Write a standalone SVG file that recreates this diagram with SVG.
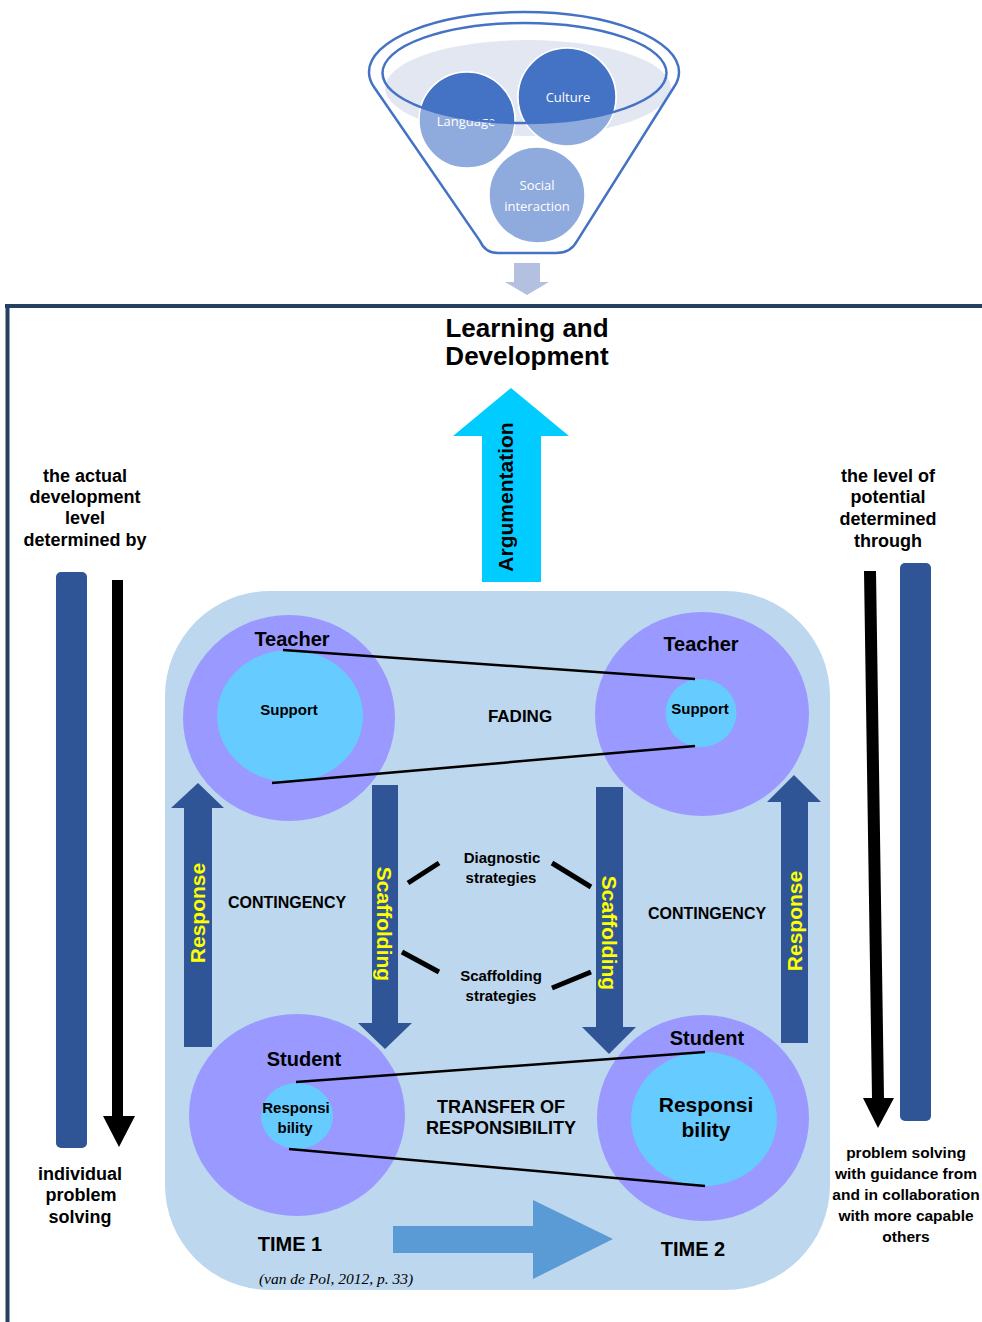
<svg xmlns="http://www.w3.org/2000/svg" width="982" height="1322" viewBox="0 0 982 1322">
  <defs>
    <style>
      .b { font-family: "Liberation Sans", Arial, sans-serif; font-weight: bold; fill: #000; text-anchor: middle; }
      .y { font-family: "Liberation Sans", Arial, sans-serif; font-weight: bold; fill: #ffff00; text-anchor: middle; font-size: 21px; }
      .f { font-family: "Open Sans", "Noto Sans", sans-serif; fill: #fff; text-anchor: middle; font-size: 13px; }
      .funnel { fill: none; stroke: #4472c4; stroke-width: 2.5; }
      .ring { fill: #9999ff; }
      .core { fill: #66ccff; }
      .dark { fill: #2f5597; }
      .thin { stroke: #000; stroke-width: 2.5; fill: none; }
      .dash { stroke: #000; stroke-width: 5; fill: none; }
    </style>
    <clipPath id="innerRim">
      <ellipse cx="524.5" cy="73" rx="142" ry="50"/>
    </clipPath>
  </defs>

  <rect width="982" height="1322" fill="#ffffff"/>

  <!-- funnel of influences -->
  <g id="funnel">
    <ellipse cx="528" cy="88" rx="143" ry="48" fill="#e3e7f2"/>
    <g stroke="#ffffff" stroke-width="1.5">
      <circle cx="467" cy="120" r="48" fill="#8faadc"/>
      <circle cx="567" cy="97" r="49" fill="#8faadc"/>
      <circle cx="537" cy="195" r="48" fill="#8faadc"/>
      <g clip-path="url(#innerRim)">
        <circle cx="467" cy="120" r="48" fill="#4472c4"/>
        <circle cx="567" cy="97" r="49" fill="#4472c4"/>
      </g>
    </g>
    <text class="f" x="466" y="126">Language</text>
    <text class="f" x="568" y="102">Culture</text>
    <text class="f" x="537" y="190">Social</text>
    <text class="f" x="537" y="211">interaction</text>
    <path class="funnel" d="M369,72 A155,60 0 0 1 679,72 Q679,80 674,87 L577,241 Q571,253 556,253 L498,253 Q485,253 480,241 L374,87 Q369,80 369,72 Z"/>
    <ellipse class="funnel" cx="524.5" cy="73" rx="142" ry="50"/>
    <polygon points="514,263 540,263 540,282 549,282 527,295 505,282 514,282" fill="#b4c0e0"/>
  </g>

  <!-- frame -->
  <g id="frame" fill="none" stroke="#243f60" stroke-width="4">
    <line x1="5" y1="306" x2="982" y2="306"/>
    <line x1="7.5" y1="304" x2="7.5" y2="1322"/>
  </g>

  <g id="title">
    <text class="b" x="527" y="337" font-size="26">Learning and</text>
    <text class="b" x="527" y="365" font-size="26">Development</text>
  </g>

  <!-- argumentation arrow -->
  <g id="argumentation">
    <polygon points="511,388 569,436 541,436 541,582 482,582 482,436 453,436" fill="#00ccff"/>
    <text class="b" font-size="21" transform="translate(513,497) rotate(-90)">Argumentation</text>
  </g>

  <!-- side labels -->
  <g id="actual-level">
    <text class="b" font-size="18" x="85" y="482">the actual</text>
    <text class="b" font-size="18" x="85" y="503">development</text>
    <text class="b" font-size="18" x="85" y="524">level</text>
    <text class="b" font-size="18" x="85" y="546">determined by</text>
    <rect x="56" y="572" width="31" height="576" rx="5" class="dark"/>
    <polygon points="112,580 123,580 123,1116 135,1116 119,1147 103,1116 112,1116" fill="#000"/>
    <text class="b" font-size="18" x="80" y="1180">individual</text>
    <text class="b" font-size="18" x="81" y="1201">problem</text>
    <text class="b" font-size="18" x="80" y="1223">solving</text>
  </g>

  <g id="potential-level">
    <text class="b" font-size="18" x="888" y="482">the level of</text>
    <text class="b" font-size="18" x="888" y="503">potential</text>
    <text class="b" font-size="18" x="888" y="525">determined</text>
    <text class="b" font-size="18" x="888" y="547">through</text>
    <rect x="900" y="563" width="31" height="558" rx="5" class="dark"/>
    <polygon points="864,571 876,571 884,1098 894,1098 878,1128 863,1098 872,1098" fill="#000"/>
    <text class="b" font-size="15.5" x="906" y="1158">problem solving</text>
    <text class="b" font-size="15.5" x="906" y="1179">with guidance from</text>
    <text class="b" font-size="15.5" x="906" y="1200">and in collaboration</text>
    <text class="b" font-size="15.5" x="906" y="1221">with more capable</text>
    <text class="b" font-size="15.5" x="906" y="1242">others</text>
  </g>

  <!-- interaction field -->
  <rect id="field" x="165" y="591" width="665" height="699" rx="105" fill="#bdd7ee"/>

  <g id="teacher-1">
    <ellipse class="ring" cx="289" cy="718" rx="106" ry="103"/>
    <ellipse class="core" cx="290" cy="716" rx="73" ry="66"/>
    <text class="b" font-size="20" x="292" y="646">Teacher</text>
    <text class="b" font-size="15" x="289" y="715">Support</text>
  </g>

  <g id="teacher-2">
    <ellipse class="ring" cx="702" cy="714" rx="107" ry="102"/>
    <ellipse class="core" cx="701" cy="713" rx="35.5" ry="34"/>
    <text class="b" font-size="20" x="701" y="651">Teacher</text>
    <text class="b" font-size="15" x="700" y="714">Support</text>
  </g>

  <g id="student-1">
    <ellipse class="ring" cx="297" cy="1115" rx="108" ry="101"/>
    <ellipse class="core" cx="297" cy="1116" rx="36" ry="33"/>
    <text class="b" font-size="20" x="304" y="1066">Student</text>
    <text class="b" font-size="15" x="296" y="1113">Responsi</text>
    <text class="b" font-size="15" x="295" y="1133">bility</text>
  </g>

  <g id="student-2">
    <ellipse class="ring" cx="703" cy="1118" rx="106" ry="103"/>
    <ellipse class="core" cx="704" cy="1119" rx="73" ry="67"/>
    <text class="b" font-size="20" x="707" y="1045">Student</text>
    <text class="b" font-size="21" x="706" y="1112">Responsi</text>
    <text class="b" font-size="21" x="706" y="1137">bility</text>
  </g>

  <g id="labels">
    <text class="b" font-size="17" x="520" y="722">FADING</text>
    <text class="b" font-size="16" x="287" y="908">CONTINGENCY</text>
    <text class="b" font-size="16" x="707" y="919">CONTINGENCY</text>
    <text class="b" font-size="15" x="502" y="863">Diagnostic</text>
    <text class="b" font-size="15" x="501" y="883">strategies</text>
    <text class="b" font-size="15" x="501" y="981">Scaffolding</text>
    <text class="b" font-size="15" x="501" y="1001">strategies</text>
    <text class="b" font-size="18" x="501" y="1113">TRANSFER OF</text>
    <text class="b" font-size="18" x="501" y="1134">RESPONSIBILITY</text>
    <text class="b" font-size="20" x="290" y="1251">TIME 1</text>
    <text class="b" font-size="20" x="693" y="1256">TIME 2</text>
    <text x="336" y="1284" font-family="'Liberation Serif', 'Times New Roman', serif" font-style="italic" font-size="15.5" text-anchor="middle" fill="#000">(van de Pol, 2012, p. 33)</text>
  </g>

  <g id="connectors">
    <!-- fading and transfer lines -->
    <line class="thin" x1="283" y1="650" x2="695" y2="679"/>
    <line class="thin" x1="272" y1="783" x2="695" y2="746"/>
    <line class="thin" x1="296" y1="1082" x2="705" y2="1052"/>
    <line class="thin" x1="289" y1="1149" x2="705" y2="1186"/>
    <!-- strategy ties -->
    <line class="dash" x1="408" y1="883" x2="439" y2="863"/>
    <line class="dash" x1="552" y1="863" x2="591" y2="887"/>
    <line class="dash" x1="402" y1="952" x2="439" y2="972"/>
    <line class="dash" x1="552" y1="988" x2="591" y2="972"/>
    <!-- response arrows (up) -->
    <polygon class="dark" points="198,783 224,808 212,808 212,1047 184,1047 184,808 171,808"/>
    <polygon class="dark" points="794,775 821,802 808,802 808,1043 781,1043 781,802 767,802"/>
    <!-- scaffolding arrows (down) -->
    <polygon class="dark" points="372,785 398,785 398,1023 412,1023 385,1049 358,1023 372,1023"/>
    <polygon class="dark" points="596,787 623,787 623,1027 636,1027 609,1054 582,1027 596,1027"/>
    <!-- time arrow -->
    <polygon points="393,1226 533,1226 533,1200 613,1239 533,1279 533,1253 393,1253" fill="#5b9bd5"/>
  </g>

  <g id="arrow-labels">
    <text class="y" transform="translate(205,913) rotate(-90)">Response</text>
    <text class="y" transform="translate(802,921) rotate(-90)">Response</text>
    <text class="y" transform="translate(377,924) rotate(90)">Scaffolding</text>
    <text class="y" transform="translate(602,933) rotate(90)">Scaffolding</text>
  </g>
</svg>
